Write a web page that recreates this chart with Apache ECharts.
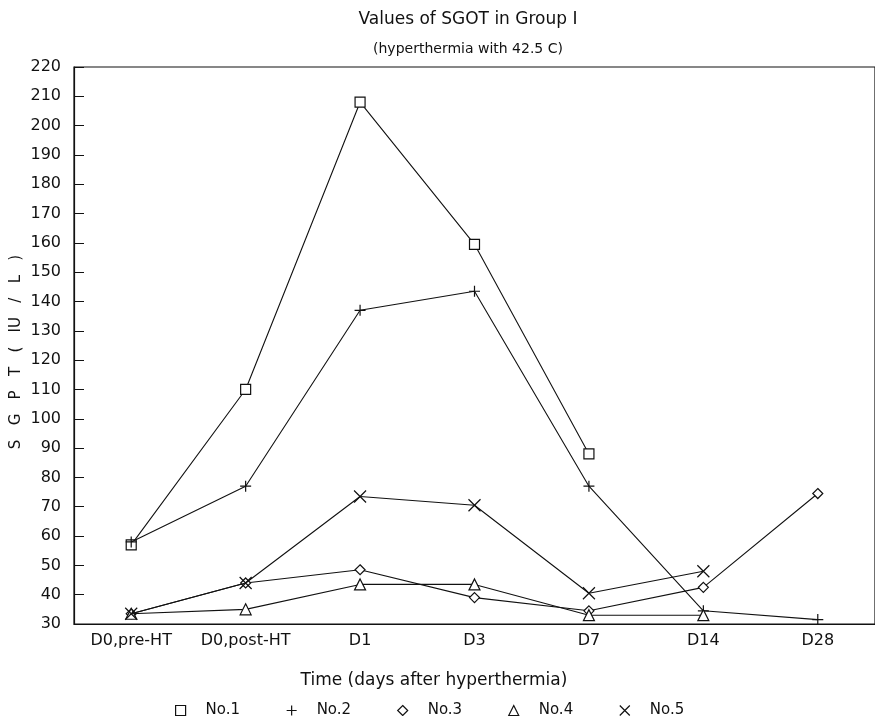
<!DOCTYPE html>
<html>
<head>
<meta charset="utf-8">
<script src="https://cdn.jsdelivr.net/npm/echarts@6/dist/echarts.min.js"></script>
<style>
html,body{margin:0;padding:0;background:#fff;}
#chart{width:875px;height:716px;}
</style>
</head>
<body>
<div id="chart"></div>
<script>
var categories = ['D0,pre-HT', 'D0,post-HT', 'D1', 'D3', 'D7', 'D14', 'D28'];
var no1 = [57, 110, 208, 159.5, 88, null, null];
var no2 = [58, 77, 137, 143.5, 77, 34.5, 31.5];
var no3 = [33.5, 44, 48.5, 39, 34.5, 42.5, 74.5];
var no4 = [33.5, 35, 43.5, 43.5, 33, 33, null];
var no5 = [33.5, 44, 73.5, 70.5, 40.5, 48, null];
var seriesNames = ['No.1', 'No.2', 'No.3', 'No.4', 'No.5'];
var yMin = 30, yMax = 220, yStep = 10;

var FONT = 'DejaVu Sans';
var INK = '#111';
var PLUS = 'path://M0,-1L0,1M-1,0L1,0';
var CROSS = 'path://M-1,-1L1,1M-1,1L1,-1';
var symbols = ['rect', PLUS, 'diamond', 'triangle', CROSS];
var sizes = [10, 11, 10, 11, 12];
var datasets = [no1, no2, no3, no4, no5];

var chart = echarts.init(document.getElementById('chart'));

var series = datasets.map(function (d, i) {
  return {
    name: seriesNames[i],
    type: 'line',
    data: d,
    symbol: symbols[i],
    symbolSize: sizes[i],
    showSymbol: true,
    connectNulls: false,
    animation: false,
    lineStyle: {color: INK, width: 1.1},
    itemStyle: {color: '#fff', borderColor: INK, borderWidth: 1.2},
    emphasis: {disabled: true},
    z: 3 + i
  };
});

chart.setOption({
  backgroundColor: '#fff',
  animation: false,
  textStyle: {fontFamily: FONT, color: INK},
  grid: {
    left: 74, top: 67, width: 828, bottom: 92,
    show: true, borderColor: INK, borderWidth: 1.2, backgroundColor: 'transparent'
  },
  xAxis: {
    type: 'category',
    data: categories,
    boundaryGap: true,
    axisLine: {lineStyle: {color: INK, width: 1.2}},
    axisTick: {inside: true, alignWithLabel: true, interval: 0, length: 8, lineStyle: {color: INK}},
    axisLabel: {color: INK, fontFamily: FONT, fontSize: 16, margin: 9, interval: 0}
  },
  yAxis: {
    type: 'value',
    min: yMin, max: yMax, interval: yStep,
    axisLine: {show: true, lineStyle: {color: INK, width: 1.2}},
    axisTick: {show: true, inside: true, length: 10, lineStyle: {color: INK}},
    splitLine: {show: false},
    axisLabel: {color: INK, fontFamily: FONT, fontSize: 16, margin: 13}
  },
  legend: {
    data: seriesNames.map(function (n, i) {
      return {name: n, icon: symbols[i]};
    }),
    left: 170, top: 698,
    itemWidth: 10, itemHeight: 10, itemGap: 46,
    itemStyle: {color: '#fff', borderColor: INK, borderWidth: 1.2},
    textStyle: {fontFamily: FONT, fontSize: 15, color: INK, padding: [0, 0, 0, 15]},
    selectedMode: false
  },
  graphic: [
    {type: 'text', x: 468, y: 20, style: {text: 'Values of SGOT in Group I', fontFamily: FONT, fontSize: 17, fill: INK, align: 'center', verticalAlign: 'middle'}},
    {type: 'text', x: 468, y: 49, style: {text: '(hyperthermia with 42.5 C)', fontFamily: FONT, fontSize: 14, fill: INK, align: 'center', verticalAlign: 'middle'}},
    {type: 'text', x: 434, y: 681, style: {text: 'Time (days after hyperthermia)', fontFamily: FONT, fontSize: 17, fill: INK, align: 'center', verticalAlign: 'middle'}},
    {type: 'text', x: 16, y: 352, rotation: Math.PI / 2, style: {text: 'S   G   P   T   (   IU   /   L   )', fontFamily: FONT, fontSize: 15, fill: INK, align: 'center', verticalAlign: 'middle'}}
  ],
  series: series
});
</script>
</body>
</html>
